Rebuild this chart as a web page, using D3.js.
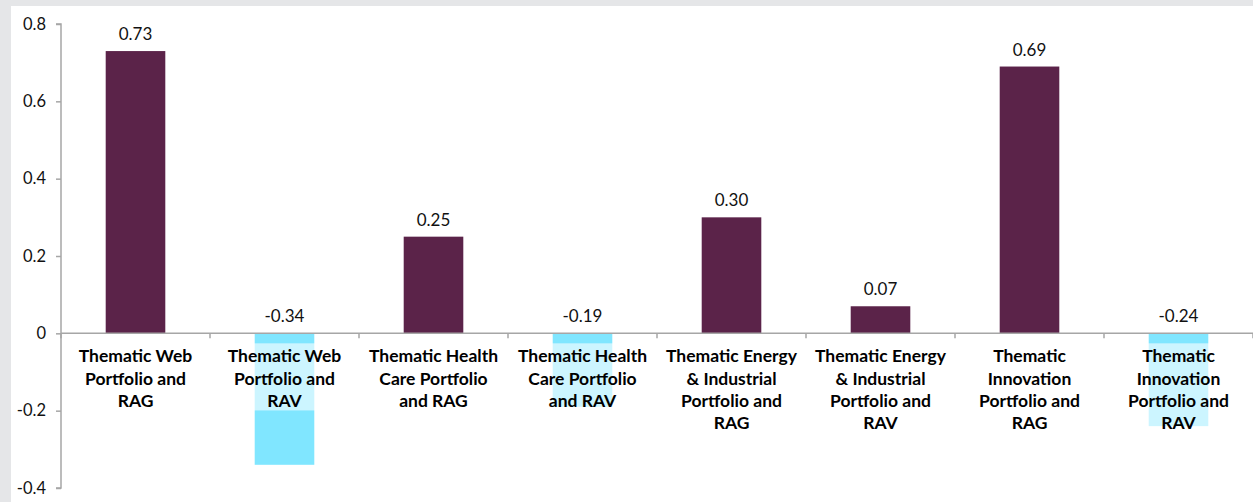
<!DOCTYPE html>
<html>
<head>
<meta charset="utf-8">
<script src="https://cdn.jsdelivr.net/npm/d3@7/dist/d3.min.js"></script>
<style>
  html, body { margin: 0; padding: 0; background: #e5e6e8; }
  svg { display: block; }
</style>
</head>
<body>
<svg id="chart" width="1253" height="502"></svg>
<script>
const categories = [
  "Thematic Web\nPortfolio and\nRAG",
  "Thematic Web\nPortfolio and\nRAV",
  "Thematic Health\nCare Portfolio\nand RAG",
  "Thematic Health\nCare Portfolio\nand RAV",
  "Thematic Energy\n& Industrial\nPortfolio and\nRAG",
  "Thematic Energy\n& Industrial\nPortfolio and\nRAV",
  "Thematic\nInnovation\nPortfolio and\nRAG",
  "Thematic\nInnovation\nPortfolio and\nRAV"
];
const values = [0.73, -0.34, 0.25, -0.19, 0.30, 0.07, 0.69, -0.24];
const yTicks = [-0.4, -0.2, 0, 0.2, 0.4, 0.6, 0.8];

const svg = d3.select("#chart");
const W = 1253, H = 502;

// white panel
svg.append("rect").attr("x", 11).attr("y", 6).attr("width", W - 11).attr("height", H - 6).attr("fill", "#ffffff");

const x = d3.scaleBand().domain(d3.range(categories.length)).range([61, 1253]).paddingInner(0.6).paddingOuter(0.3);
const y = d3.scaleLinear().domain([-0.4, 0.8]).range([488, 24]);

const posColor = "#5b2349", negColor = "#80e6ff";
const axisColor = "#a6a6a6";
const font = "Lato, 'Open Sans', sans-serif";

// bars
svg.append("g").selectAll("rect").data(values).join("rect")
  .attr("x", (d, i) => x(i))
  .attr("width", x.bandwidth())
  .attr("y", d => y(Math.max(0, d)))
  .attr("height", d => Math.abs(y(d) - y(0)))
  .attr("fill", d => d >= 0 ? posColor : negColor);

// y axis
const yAxis = svg.append("g").attr("transform", "translate(61,0)")
  .call(d3.axisLeft(y).tickValues(yTicks).tickSize(5).tickPadding(10)
    .tickFormat(v => v === 0 ? "0" : v.toFixed(1)));
yAxis.select(".domain").attr("stroke", axisColor).attr("stroke-width", 1.5).attr("d", `M-5,${y(0.8)}H0V${y(-0.4)}H-5`);
yAxis.selectAll(".tick line").attr("stroke", axisColor).attr("stroke-width", 1.5);
yAxis.selectAll(".tick text").attr("font-family", font).attr("font-size", 16.5).attr("fill", "#111");

// x axis (zero line) with band boundary ticks
const bounds = d3.range(categories.length + 1).map(i => 61 + i * x.step());
const xg = svg.append("g");
xg.append("line").attr("x1", 61).attr("x2", W).attr("y1", y(0)).attr("y2", y(0))
  .attr("stroke", axisColor).attr("stroke-width", 1.5);
xg.selectAll("line.tk").data(bounds).join("line").attr("class", "tk")
  .attr("x1", d => d).attr("x2", d => d).attr("y1", y(0)).attr("y2", y(0) + 5)
  .attr("stroke", axisColor).attr("stroke-width", 1.5);

// value labels
svg.append("g").selectAll("text").data(values).join("text")
  .attr("x", (d, i) => x(i) + x.bandwidth() / 2)
  .attr("y", d => y(Math.max(0, d)) - 11)
  .attr("text-anchor", "middle")
  .attr("font-family", font)
  .attr("font-size", 17)
  .attr("fill", "#111")
  .text(d => d.toFixed(2));

// category labels with translucent white box
const lineH = 22.2;
const labG = svg.append("g");
categories.forEach((c, i) => {
  const lines = c.split("\n");
  const cx = x(i) + x.bandwidth() / 2;
  const g = labG.append("g");
  const rect = g.append("rect").attr("fill", "#ffffff").attr("fill-opacity", 0.6);
  const t = g.append("text")
    .attr("text-anchor", "middle")
    .attr("font-family", font)
    .attr("font-weight", "bold")
    .attr("font-size", 17.5)
    .attr("fill", "#000");
  lines.forEach((l, k) => {
    t.append("tspan").attr("x", cx).attr("y", y(0) + 29 + k * lineH).text(l);
  });
  const bb = t.node().getBBox();
  rect.attr("x", bb.x - 4).attr("width", bb.width + 8)
    .attr("y", y(0) + 10).attr("height", lines.length * lineH + 0.5);
});
</script>
</body>
</html>
